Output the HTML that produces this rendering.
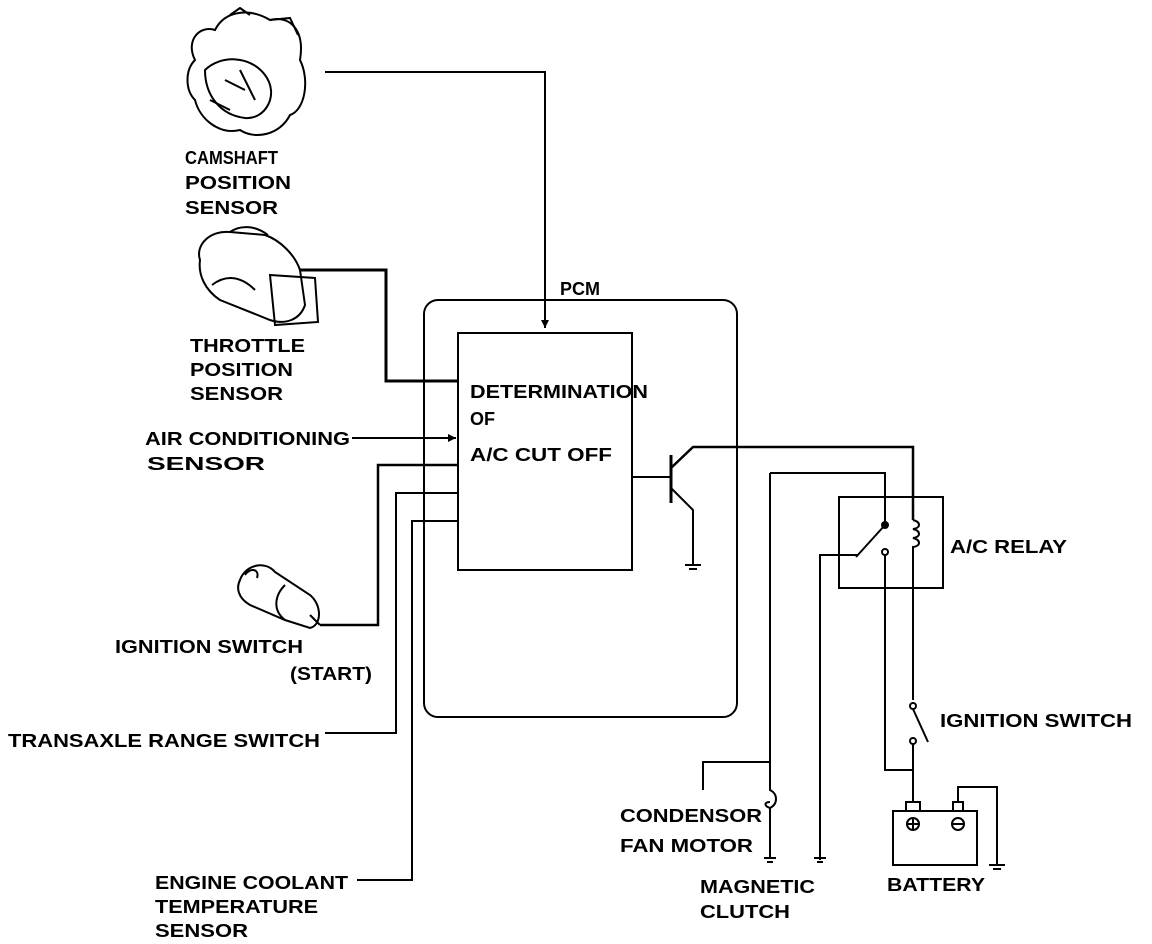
<!DOCTYPE html>
<html><head><style>html,body{margin:0;padding:0;background:#fff}svg{display:block}text{font-family:"Liberation Sans",sans-serif;font-size:18px;fill:#000}</style></head><body>
<svg width="1152" height="944" viewBox="0 0 1152 944" xmlns="http://www.w3.org/2000/svg">
<defs><marker id="a" markerWidth="10" markerHeight="10" refX="8" refY="4" orient="auto" markerUnits="userSpaceOnUse"><path d="M0,0 L8,4 L0,8z"/></marker></defs>
<g fill="none" stroke="#000" stroke-width="2">
<!-- PCM -->
<rect x="424" y="300" width="313" height="417" rx="14"/>
<rect x="458" y="333" width="174" height="237"/>
<!-- camshaft -->
<path d="M325,72 H545 V328" marker-end="url(#a)"/>
<!-- throttle -->
<path d="M300,270 H386 V381 H458" stroke-width="3"/>
<path d="M352,438 H456" marker-end="url(#a)"/>
<path d="M320,625 H378 V465 H458" stroke-width="2.5"/>
<path d="M325,733 H396 V493 H458"/>
<path d="M357,880 H412 V521 H458"/>
<!-- transistor -->
<path d="M632,477 H671"/>
<path d="M671,455 V503" stroke-width="3"/>
<path d="M671,468 L693,447 H913 V520" stroke-width="2.5"/>
<path d="M671,488 L693,510 V565"/>
<path d="M685,565 H701 M689,569 H697"/>
<!-- relay -->
<rect x="839" y="497" width="104" height="91"/>
<path d="M770,473 H885 V523"/>
<circle cx="885" cy="525" r="3" fill="#000"/>
<path d="M885,525 L856,557"/>
<path d="M820,860 V555 H858"/>
<circle cx="885" cy="552" r="3"/>
<path d="M885,555 V770 H913"/>
<path d="M913,520 c8,2 8,8 0,9 c8,2 8,8 0,9 c8,2 8,8 0,9 V700"/>
<!-- ignition switch right -->
<circle cx="913" cy="706" r="3"/>
<path d="M913,709 L928,742"/>
<circle cx="913" cy="741" r="3"/>
<path d="M913,744 V802"/>
<!-- condenser -->
<path d="M770,473 V790 c8,4 8,14 0,18 c-6,-2 -6,-6 0,-6 M770,808 V858"/>
<path d="M770,762 H703 V790"/>
<path d="M764,858 H776 M767,862 H773 M814,858 H826 M817,862 H823"/>
<!-- battery -->
<rect x="893" y="811" width="84" height="54"/>
<rect x="906" y="802" width="14" height="9"/>
<rect x="953" y="802" width="10" height="9"/>
<circle cx="913" cy="824" r="6"/><path d="M908,824 H918 M913,819 V829"/>
<circle cx="958" cy="824" r="6"/><path d="M953,824 H963"/>
<path d="M958,802 V787 H997 V865"/>
<path d="M989,865 H1005 M993,869 H1001"/>
<!-- camshaft sensor drawing -->
<path d="M195,60 C185,40 200,25 215,30 C225,10 250,8 270,20 C290,15 305,30 300,60 C310,80 305,110 290,115 C280,135 255,140 240,130 C220,135 200,120 195,100 C185,90 185,70 195,60z"/>
<path d="M205,70 C220,55 250,55 265,75 C280,95 265,120 245,118 C220,115 205,95 205,70z"/>
<path d="M230,15 L240,8 L250,15 M270,20 L290,18 L298,35 M225,80 L245,90 M240,70 L255,100 M210,100 L230,110"/>
<!-- throttle sensor -->
<path d="M200,260 C195,245 210,230 230,232 L265,235 C280,240 295,255 300,270 L305,305 C300,320 285,325 270,320 L220,300 C205,290 198,275 200,260z"/>
<path d="M270,275 L315,278 L318,322 L275,325z"/>
<path d="M230,232 C240,225 255,225 268,235 M212,285 C225,275 240,275 255,290"/>
<!-- ignition switch drawing -->
<path d="M240,580 C245,565 265,560 275,572 L310,595 C322,605 322,625 310,628 L285,620 L250,605 C238,598 236,588 240,580z"/>
<path d="M285,585 C275,595 272,610 285,620 M245,575 c5,-8 15,-6 12,3"/>
<path d="M310,615 L320,625"/>
</g>
<g font-weight="bold">
<text x="560" y="295">PCM</text>
<text x="470" y="398" textLength="178" lengthAdjust="spacingAndGlyphs">DETERMINATION</text>
<text x="470" y="425">OF</text>
<text x="470" y="461" textLength="142" lengthAdjust="spacingAndGlyphs">A/C CUT OFF</text>
<text x="185" y="164" textLength="93" lengthAdjust="spacingAndGlyphs">CAMSHAFT</text>
<text x="185" y="189" textLength="106" lengthAdjust="spacingAndGlyphs">POSITION</text>
<text x="185" y="214" textLength="93" lengthAdjust="spacingAndGlyphs">SENSOR</text>
<text x="190" y="352" textLength="115" lengthAdjust="spacingAndGlyphs">THROTTLE</text>
<text x="190" y="376" textLength="103" lengthAdjust="spacingAndGlyphs">POSITION</text>
<text x="190" y="400" textLength="93" lengthAdjust="spacingAndGlyphs">SENSOR</text>
<text x="145" y="445" textLength="205" lengthAdjust="spacingAndGlyphs">AIR CONDITIONING</text>
<text x="147" y="470" textLength="118" lengthAdjust="spacingAndGlyphs">SENSOR</text>
<text x="115" y="653" textLength="188" lengthAdjust="spacingAndGlyphs">IGNITION SWITCH</text>
<text x="290" y="680" textLength="82" lengthAdjust="spacingAndGlyphs">(START)</text>
<text x="8" y="747" textLength="312" lengthAdjust="spacingAndGlyphs">TRANSAXLE RANGE SWITCH</text>
<text x="155" y="889" textLength="193" lengthAdjust="spacingAndGlyphs">ENGINE COOLANT</text>
<text x="155" y="913" textLength="163" lengthAdjust="spacingAndGlyphs">TEMPERATURE</text>
<text x="155" y="937" textLength="93" lengthAdjust="spacingAndGlyphs">SENSOR</text>
<text x="950" y="553" textLength="117" lengthAdjust="spacingAndGlyphs">A/C RELAY</text>
<text x="940" y="727" textLength="192" lengthAdjust="spacingAndGlyphs">IGNITION SWITCH</text>
<text x="620" y="822" textLength="142" lengthAdjust="spacingAndGlyphs">CONDENSOR</text>
<text x="620" y="852" textLength="133" lengthAdjust="spacingAndGlyphs">FAN MOTOR</text>
<text x="700" y="893" textLength="115" lengthAdjust="spacingAndGlyphs">MAGNETIC</text>
<text x="700" y="918" textLength="90" lengthAdjust="spacingAndGlyphs">CLUTCH</text>
<text x="887" y="891" textLength="98" lengthAdjust="spacingAndGlyphs">BATTERY</text>
</g>
</svg>
</body></html>
